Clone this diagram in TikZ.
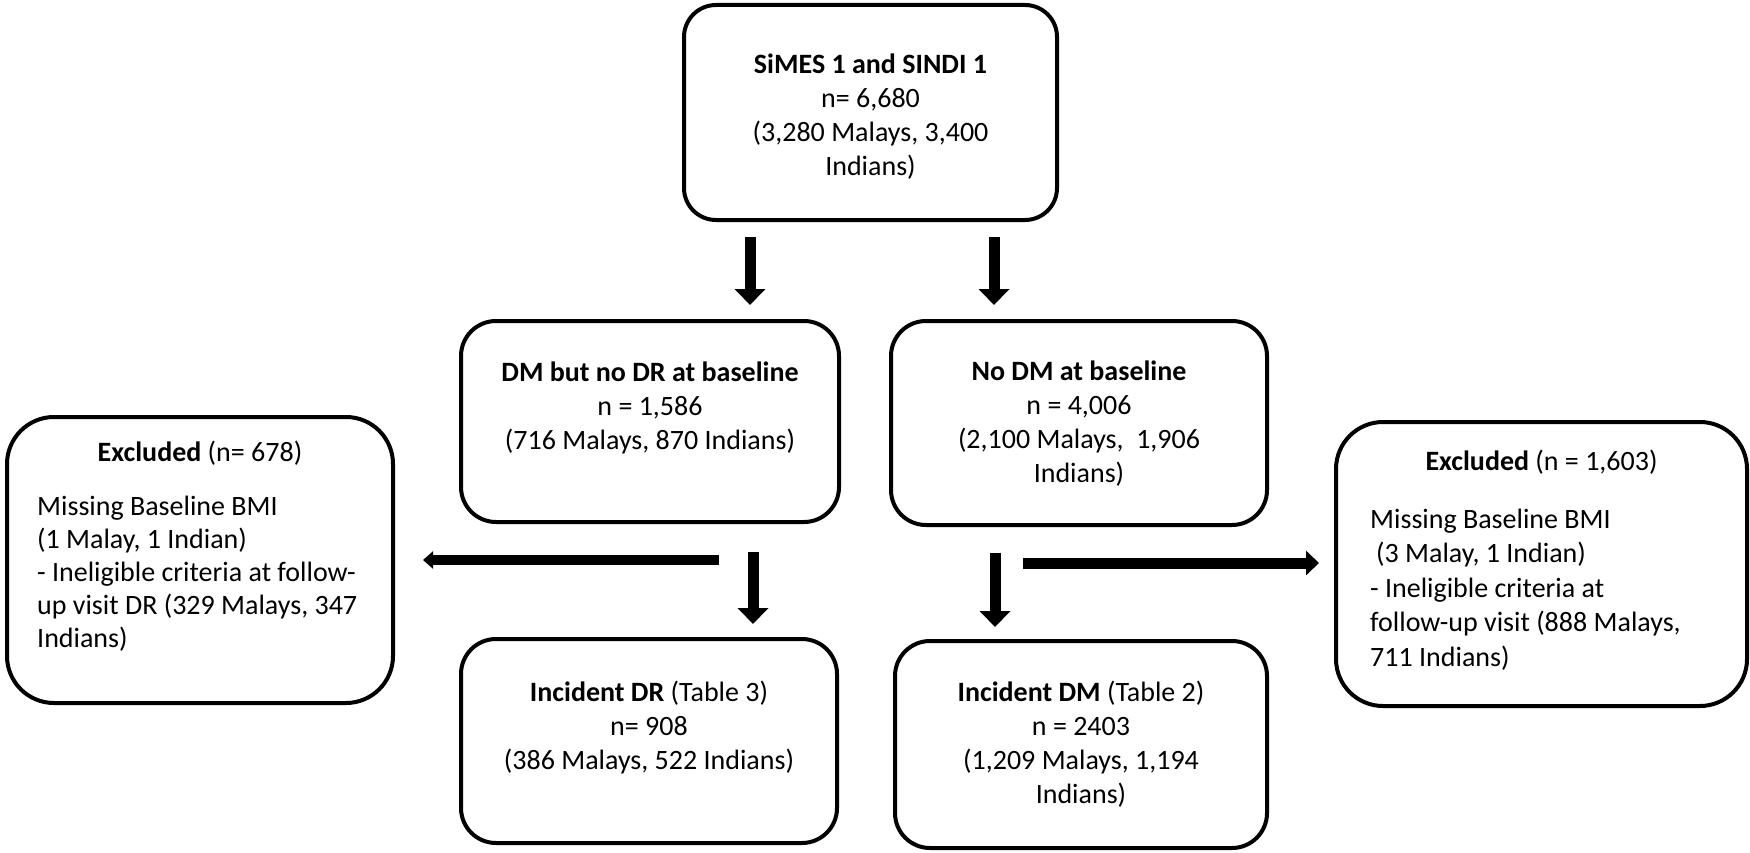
\documentclass[tikz,border=0pt]{standalone}
\usepackage{fontspec}
\setmainfont{Carlito}
\usetikzlibrary{arrows.meta}
\begin{document}
\begin{tikzpicture}[x=1pt,y=-1pt,
  box/.style={draw, line width=4pt, rounded corners=#1, inner sep=0pt},
  box/.default=35pt,
  txt/.style={inner sep=0pt, font=\fontsize{28}{34}\selectfont, align=center, anchor=north},
  ltxt/.style={inner sep=0pt, font=\fontsize{28}{33}\selectfont, align=left, anchor=north west},
  arr/.style={line width=11pt, -{Triangle[length=16pt,width=30pt]}},
  arrl/.style={line width=10pt, -{Triangle[length=10pt,width=17pt]}},
  arrr/.style={line width=11pt, -{Triangle[length=13pt,width=24pt]}}]
\useasboundingbox (0,0) rectangle (1750,853);
% boxes
\node[box=32pt, minimum width=373pt, minimum height=215pt] (top) at (870.5,112.5) {};
\node[box, minimum width=378pt, minimum height=201pt] (dm) at (650,421.5) {};
\node[box, minimum width=376pt, minimum height=204pt] (nodm) at (1079,423) {};
\node[box, minimum width=376pt, minimum height=204pt] (idr) at (649,741) {};
\node[box, minimum width=372pt, minimum height=207pt] (idm) at (1081,744.5) {};
\node[box=47pt, minimum width=386pt, minimum height=286pt] (lex) at (200,560) {};
\node[box=47pt, minimum width=411pt, minimum height=284pt] (rex) at (1541.5,564) {};
% texts
\node[txt] (topt) at (870.5,53.5) {\textbf{SiMES 1 and SINDI 1}\\n= 6,680\\(3,280 Malays, 3,400\\Indians)};
\node[txt] (dmt) at (650,361.5) {\textbf{DM but no DR at baseline}\\n = 1,586\\(716 Malays, 870 Indians)};
\node[txt] (nodmt) at (1079,360.5) {\textbf{No DM at baseline}\\n = 4,006\\(2,100 Malays,\ \ 1,906\\Indians)};
\node[txt] (idrt) at (649,680.5) {\textbf{Incident DR} (Table 3)\\n= 908\\(386 Malays, 522 Indians)};
\node[txt] (idmt) at (1081,680.5) {\textbf{Incident DM} (Table 2)\\n = 2403\\(1,209 Malays, 1,194\\Indians)};
\node[txt] (lexh) at (200,440.5) {\textbf{Excluded} (n= 678)};
\node[ltxt] (lexb) at (37,495.5) {Missing Baseline BMI\\(1 Malay, 1 Indian)\\- Ineligible criteria at follow-\\up visit DR (329 Malays, 347\\Indians)};
\node[txt] (rexh) at (1541.5,449.5) {\textbf{Excluded} (n = 1,603)};
\node[ltxt, font=\fontsize{28}{34.5}\selectfont] (rexb) at (1370,508.5) {Missing Baseline BMI\\\hspace*{6pt}(3 Malay, 1 Indian)\\- Ineligible criteria at\\follow-up visit (888 Malays,\\711 Indians)};
% connector end points
\coordinate (a1s) at (750,237);  \coordinate (a1e) at (750,305);
\coordinate (a2s) at (994,237);  \coordinate (a2e) at (994,305);
\coordinate (a3s) at (753,552);  \coordinate (a3e) at (753,624);
\coordinate (a4s) at (995,553);  \coordinate (a4e) at (995,627);
\coordinate (a5s) at (719,560);  \coordinate (a5e) at (423,560);
\coordinate (a6s) at (1023,563); \coordinate (a6e) at (1319,563);
\draw[arr] (a1s) -- (a1e);
\draw[arr] (a2s) -- (a2e);
\draw[arr] (a3s) -- (a3e);
\draw[arr] (a4s) -- (a4e);
\draw[arrl] (a5s) -- (a5e);
\draw[arrr] (a6s) -- (a6e);
\end{tikzpicture}
\end{document}
